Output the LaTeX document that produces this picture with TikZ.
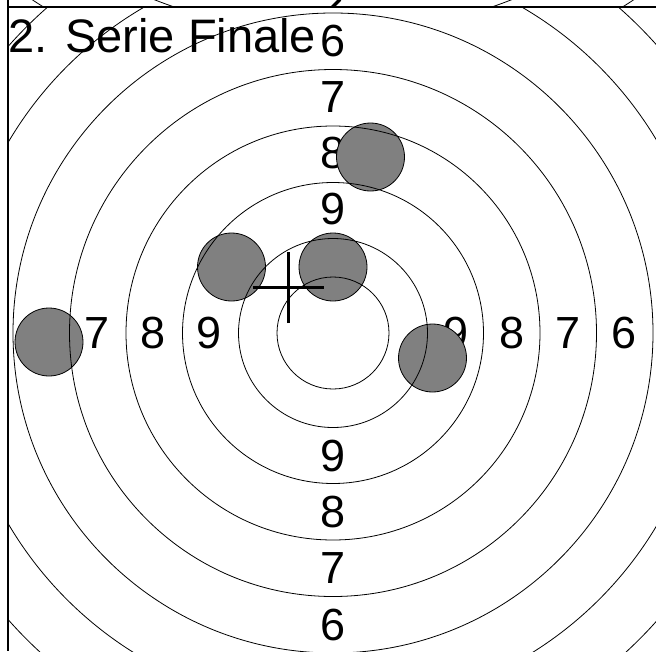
\documentclass[tikz,border=0pt]{standalone}
\usepackage{fontspec}
\setmainfont{Liberation Sans}
\definecolor{shotgray}{RGB}{128,128,128}
\begin{document}
\begin{tikzpicture}[x=1pt,y=-1pt,
  ring/.style={line width=0.8pt},
  frame/.style={line width=1.3pt},
  shot/.style={circle,draw,line width=0.8pt,fill=shotgray,minimum size=68pt,inner sep=0pt},
  lbl/.style={inner sep=0pt,font=\fontsize{45}{50}\selectfont},
  crossline/.style={line width=3.5pt}]
\useasboundingbox (0,0) rectangle (656,651);
\coordinate (c) at (333,333);
\coordinate (cup) at (333,-456.5);
% upper neighbouring target, clipped
\begin{scope}
  \clip (8,0) rectangle (656,7);
  \foreach \r in {489.8,546.4} \draw[ring] (cup) circle[radius=\r pt];
  \draw[line width=3.2pt] (332,7.5) -- (340,-0.5);
\end{scope}
% main target
\begin{scope}
  \clip (8,7) rectangle (656,651);
  \node[lbl,anchor=base west,font=\fontsize{47}{52}\selectfont] (title) at (8.5,52) {2. Serie Finale};
  \foreach \d/\t in {123.5/9,179.5/8,235.5/7,291.5/6} {
    \node[lbl] (top\t) at (333,{333-\d}) {\t};
    \node[lbl] (bot\t) at (333,{333+\d}) {\t};
    \node[lbl] (lft\t) at ({333-\d},333) {\t};
    \node[lbl] (rgt\t) at ({333+\d},333) {\t};
  }
  \node[shot] (s1) at (370.5,157) {};
  \node[shot] (s2) at (231.5,267) {};
  \node[shot] (s3) at (333,267) {};
  \node[shot] (s4) at (49,342) {};
  \node[shot] (s5) at (432.5,358) {};
  \foreach \r in {56,94.5,150.5,207,263.5,320,376.6,433.2,489.8}
    \draw[ring] (c) circle[radius=\r pt];
\end{scope}
% aiming cross
\coordinate (hit) at (288.5,287.5);
\draw[crossline] ([xshift=-35.5pt]hit) -- ([xshift=35.5pt]hit);
\draw[crossline] ([yshift=-35.5pt]hit) -- ([yshift=35.5pt]hit);
% frame
\coordinate (fl) at (8,0);
\coordinate (fb) at (8,651);
\coordinate (ft) at (8,7);
\coordinate (fr) at (656,7);
\draw[frame] (fl) -- (fb);
\draw[frame] (ft) -- (fr);
\end{tikzpicture}
\end{document}
